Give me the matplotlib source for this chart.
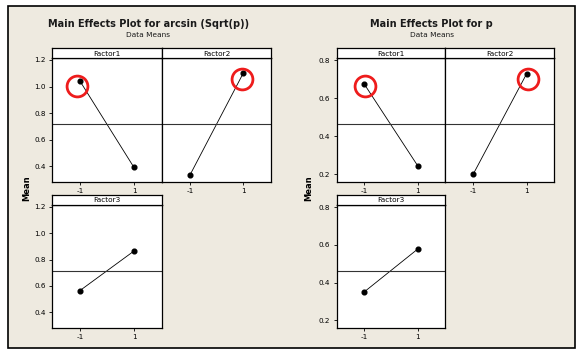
import matplotlib.pyplot as plt
from matplotlib.patches import Rectangle

# Data: means at factor levels -1 and 1
levels = [-1, 1]
factor_names = ["Factor1", "Factor2", "Factor3"]

asin_means = {
    "Factor1": [1.04, 0.39],
    "Factor2": [0.33, 1.10],
    "Factor3": [0.565, 0.865],
}
p_means = {
    "Factor1": [0.674, 0.246],
    "Factor2": [0.200, 0.728],
    "Factor3": [0.352, 0.578],
}
asin_grand = 0.715
p_grand = 0.464

asin_ticks = [0.4, 0.6, 0.8, 1.0, 1.2]
p_ticks = [0.2, 0.4, 0.6, 0.8]

# hand drawn red circles (x, y in data units) per panel
asin_circles = {"Factor1": (-1.12, 1.004), "Factor2": (0.94, 1.057)}
p_circles = {"Factor1": (-0.96, 0.665), "Factor2": (1.04, 0.702)}

W, H = 580, 357
BG = "#eeeae0"

fig = plt.figure(figsize=(W / 100, H / 100), dpi=100)
fig.patch.set_facecolor("white")
fig.patches.append(Rectangle((8 / W, 1 - 348 / H), 567 / W, 342 / H,
                             transform=fig.transFigure, facecolor=BG,
                             edgecolor="black", linewidth=1.2, zorder=-10))


def box(x0, x1, y0, y1):
    return [x0 / W, 1 - y1 / H, (x1 - x0) / W, (y1 - y0) / H]


def panel(rect, hdr, name, means, grand, ylim, ticks, show_y, circle):
    ax = fig.add_axes(rect)
    ax.plot(levels, means, color="black", lw=0.6, marker="o", ms=3.4)
    ax.axhline(grand, color="#333333", lw=0.8)
    if circle is not None:
        ax.plot([circle[0]], [circle[1]], marker="o", ms=15, mfc="none",
                mec="#ee1c1c", mew=2.0, clip_on=False)
    ax.set_xlim(-2.04, 2.04)
    ax.set_ylim(ylim)
    ax.set_xticks(levels)
    ax.set_xticklabels(["-1", "1"])
    ax.set_yticks(ticks)
    ax.set_yticklabels([f"{t:.1f}" for t in ticks])
    ax.tick_params(labelsize=5.2, length=2.5, width=0.6, pad=2,
                   labelleft=show_y, left=show_y)
    for s in ax.spines.values():
        s.set_linewidth(0.9)
    hx = fig.add_axes(hdr)
    hx.set_xticks([])
    hx.set_yticks([])
    for s in hx.spines.values():
        s.set_linewidth(0.9)
    hx.text(0.5, 0.45, name, ha="center", va="center", fontsize=5.3)
    return ax


def chart(x0, x_mid, x1, means, grand, ylim, ticks, circles, title, cx, ylab_x):
    rows = [("Factor1", x0, x_mid, 48, 58, 182, True),
            ("Factor2", x_mid, x1, 48, 58, 182, False),
            ("Factor3", x0, x_mid, 195, 205, 328, True)]
    for name, a, b, ht, top, bot, show in rows:
        panel(box(a, b, top, bot), box(a, b, ht, top), name, means[name],
              grand, ylim, ticks, show, circles.get(name))
    fig.text(cx / W, 1 - 24 / H, title, ha="center", va="center",
             fontsize=7.0, fontweight="bold", color="#1a1a1a")
    fig.text(cx / W, 1 - 35 / H, "Data Means", ha="center", va="center",
             fontsize=5.3, color="#1a1a1a")
    fig.text(ylab_x / W, 1 - 188 / H, "Mean", ha="center", va="center",
             rotation=90, fontsize=6, fontweight="bold")


chart(52, 162, 271, asin_means, asin_grand, (0.28, 1.215), asin_ticks,
      asin_circles, "Main Effects Plot for arcsin (Sqrt(p))", 148.5, 27)
chart(336.7, 445.3, 554.3, p_means, p_grand, (0.16, 0.812), p_ticks,
      p_circles, "Main Effects Plot for p", 431.7, 309)

fig.savefig("out.png", dpi=100, facecolor=fig.get_facecolor())
